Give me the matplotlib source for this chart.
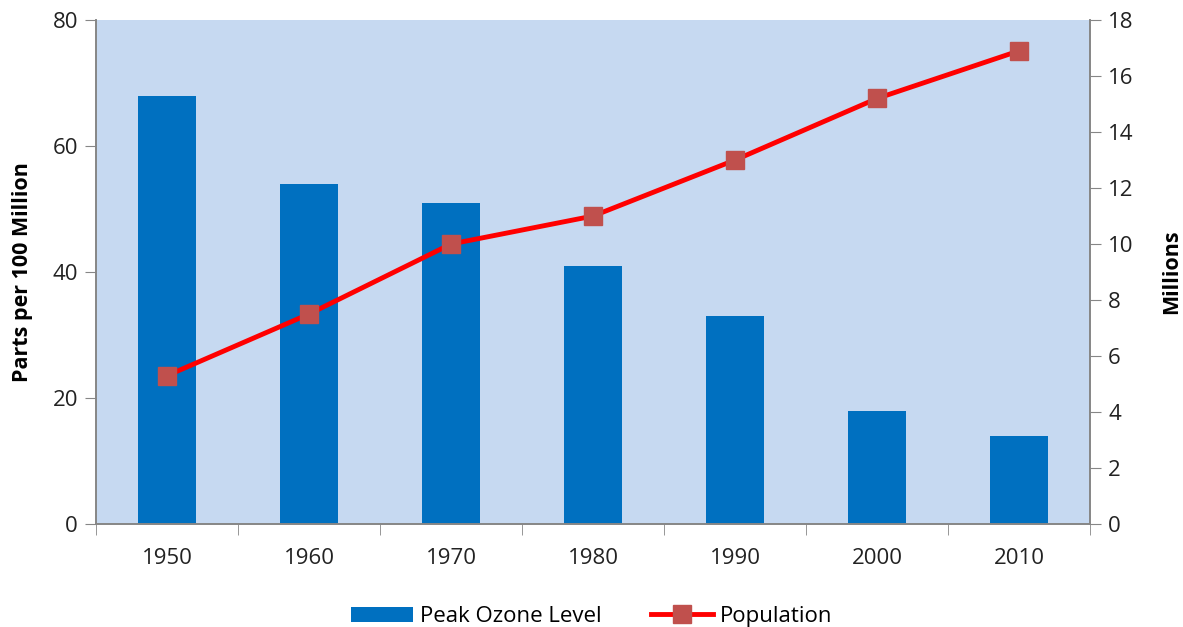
import numpy as np
import matplotlib.pyplot as plt
from matplotlib.lines import Line2D
from matplotlib.patches import Patch

plt.rcParams['font.family'] = ['Open Sans', 'DejaVu Sans']

years = ['1950', '1960', '1970', '1980', '1990', '2000', '2010']
ozone = [68, 54, 51, 41, 33, 18, 14]
population = [5.3, 7.5, 10.0, 11.0, 13.0, 15.2, 16.9]

axis_grey = '#868686'
fs = 16

fig = plt.figure(figsize=(11.83, 6.27), dpi=100)
ax = fig.add_axes([0.0812, 0.1643, 0.8402, 0.8037])
ax.set_facecolor('#C6D9F1')

x = np.arange(len(years))
ax.bar(x, ozone, width=0.41, color='#0070C0', zorder=2)
ax.set_xlim(-0.5, len(years) - 0.5)
ax.set_ylim(0, 80)
ax.set_yticks([0, 20, 40, 60, 80])
ax.set_xticks(x)
ax.set_xticklabels(years)
ax.set_xticks(np.arange(-0.5, len(years)), minor=True)
ax.tick_params(axis='x', which='major', length=0, pad=17, labelsize=fs, colors='#222222')
ax.tick_params(axis='x', which='minor', length=8, direction='out', color=axis_grey)
ax.tick_params(axis='y', length=8, direction='out', color=axis_grey, labelsize=fs,
               labelcolor='#222222', pad=5)
ax.set_ylabel('Parts per 100 Million', fontsize=15.5, fontweight='bold', labelpad=14)

ax2 = ax.twinx()
ax2.plot(x, population, color='#FF0000', lw=3.5, marker='s', markersize=13,
         markerfacecolor='#C0504D', markeredgecolor='#C0504D', zorder=3)
ax2.set_ylim(0, 18)
ax2.set_yticks(range(0, 19, 2))
ax2.tick_params(axis='y', length=8, direction='out', color=axis_grey, labelsize=fs,
                labelcolor='#222222', pad=5)
ax2.set_ylabel('Millions', fontsize=15.5, fontweight='bold', labelpad=20)

for a in (ax, ax2):
    a.spines['top'].set_visible(False)
    for s in ('left', 'right', 'bottom'):
        a.spines[s].set_color(axis_grey)
        a.spines[s].set_linewidth(1.2)

handles = [
    Patch(facecolor='#0070C0', label='Peak Ozone Level'),
    Line2D([0], [0], color='#FF0000', lw=3.5, marker='s', markersize=13,
           markerfacecolor='#C0504D', markeredgecolor='#C0504D', label='Population'),
]
fig.legend(handles=handles, loc='lower center', bbox_to_anchor=(0.5, -0.032), ncol=2,
           frameon=False, fontsize=fs, handlelength=2.8, columnspacing=2.2, handletextpad=0.3)

fig.savefig('out.png', dpi=100)
